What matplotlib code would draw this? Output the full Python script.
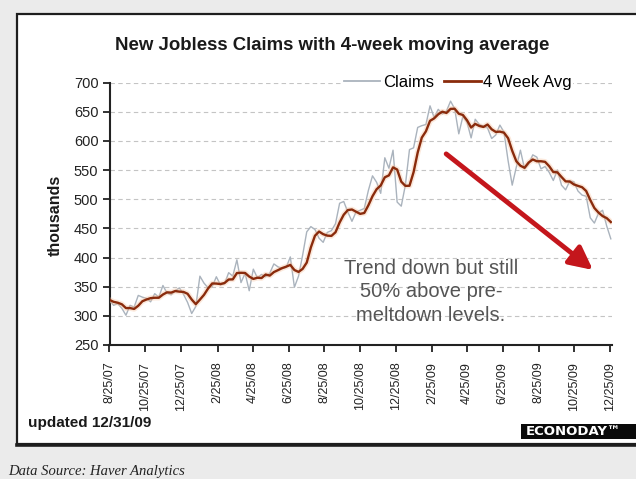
import matplotlib
matplotlib.use("Agg")
import matplotlib.pyplot as plt
import matplotlib.patheffects as pe
from matplotlib.patches import Rectangle
from matplotlib.lines import Line2D
import pandas as pd

plt.rcParams["font.family"] = ["Liberation Sans", "DejaVu Sans"]

# Weekly initial jobless claims (thousands), weeks ending Saturday
week_ending = pd.date_range("2007-08-25", "2009-12-26", freq="W-SAT")

claims = [
    327, 318, 321, 313, 301, 318, 315, 335, 332, 330, 324, 338, 332, 352, 339, 336,
    343, 348, 337, 323, 304, 316, 368, 356, 348, 350, 367, 353, 355, 374, 368, 396,
    357, 373, 343, 380, 365, 371, 367, 373, 389, 384, 381, 383, 401, 349, 368, 404,
    444, 453, 448, 433, 426, 443, 446, 458, 493, 496, 478, 462, 478, 481, 484, 515,
    540, 529, 510, 571, 553, 584, 495, 488, 524, 585, 588, 623, 626, 628, 660, 640,
    654, 646, 651, 668, 655, 612, 642, 632, 605, 637, 628, 625, 622, 604, 610, 627,
    615, 566, 524, 555, 584, 552, 560, 576, 572, 552, 556, 546, 532, 550, 524, 516,
    531, 530, 514, 507, 505, 468, 459, 476, 481, 454, 432,
]

avg_4wk = [
    327.3, 324.0, 322.5, 319.8, 313.3, 313.3, 311.8, 317.3, 325.0, 328.0, 330.3, 331.0,
    331.0, 336.5, 340.3, 339.8, 342.5, 341.5, 341.0, 337.8, 328.0, 320.0, 327.8, 336.0,
    347.0, 355.5, 355.3, 354.5, 356.3, 362.3, 362.5, 373.3, 373.8, 373.5, 367.3, 363.3,
    365.3, 364.8, 370.8, 369.0, 375.0, 378.3, 381.8, 384.3, 387.3, 378.5, 375.3, 380.5,
    391.3, 417.3, 437.3, 444.5, 440.0, 437.5, 437.0, 443.3, 460.0, 473.3, 481.3, 482.3,
    478.5, 474.8, 476.3, 489.5, 505.0, 517.0, 523.5, 537.5, 540.8, 554.5, 550.8, 530.0,
    522.8, 523.0, 546.3, 580.0, 605.5, 616.3, 634.3, 638.5, 645.5, 650.0, 647.8, 654.8,
    655.0, 646.5, 644.3, 635.3, 622.8, 629.0, 625.5, 623.8, 628.0, 619.8, 615.3, 615.8,
    614.0, 604.5, 583.0, 565.0, 557.3, 553.8, 562.8, 568.0, 565.0, 565.0, 564.0, 556.5,
    546.5, 546.0, 538.0, 530.5, 530.3, 525.3, 522.8, 520.5, 514.0, 498.5, 484.8, 477.0,
    471.0, 467.5, 460.8,
]

tick_labels = [
    "8/25/07", "10/25/07", "12/25/07", "2/25/08", "4/25/08", "6/25/08", "8/25/08",
    "10/25/08", "12/25/08", "2/25/09", "4/25/09", "6/25/09", "8/25/09", "10/25/09",
    "12/25/09",
]
tick_dates = pd.to_datetime(tick_labels, format="%m/%d/%y")
y_ticks = [250, 300, 350, 400, 450, 500, 550, 600, 650, 700]

W, H = 636, 479
fig = plt.figure(figsize=(W / 100, H / 100), dpi=100, facecolor="#ebebeb")


def fx(px):
    return px / W


def fy(py):
    return 1 - py / H


# White panel with dark border
fig.patches.append(Rectangle((fx(17), fy(444)), fx(645) - fx(17), fy(14) - fy(444),
                             transform=fig.transFigure, facecolor="white",
                             edgecolor="#1e1e1e", linewidth=1.6, zorder=-2))
fig.lines.append(Line2D([fx(17), fx(636)], [fy(444.5), fy(444.5)], transform=fig.transFigure,
                        color="#1e1e1e", linewidth=2.6, zorder=-1))

ax = fig.add_axes([fx(109.5), fy(345), fx(612) - fx(109.5), fy(82.5) - fy(345)])
ax.set_zorder(1)
ax.set_facecolor("white")

ax.plot(week_ending, claims, color="#aab3bd", lw=1.0, zorder=3)
ax.plot(week_ending, avg_4wk, color="#f6bf98", lw=4, alpha=0.35,
        solid_capstyle="round", zorder=4)
ax.plot(week_ending, avg_4wk, color="#8a2b0c", lw=1.7, zorder=5)

ax.set_ylim(250, 700)
ax.set_xlim(pd.Timestamp("2007-08-25"), pd.Timestamp("2009-12-28"))
ax.set_yticks(y_ticks)
ax.set_xticks(tick_dates)
ax.set_xticklabels(tick_labels, rotation=90)
ax.yaxis.grid(True, linestyle=(0, (4, 3)), color="#c4c4c4", lw=0.8)
ax.set_axisbelow(True)

for s in ("top", "right"):
    ax.spines[s].set_visible(False)
for s in ("left", "bottom"):
    ax.spines[s].set_color("#222222")
    ax.spines[s].set_linewidth(1.5)

ax.tick_params(axis="y", direction="out", length=5, width=1.3, colors="#222222",
               labelsize=10.5, pad=3)
ax.tick_params(axis="x", direction="out", length=5, width=1.3, colors="#222222",
               labelsize=9, pad=7)

legend_handles = [
    Line2D([], [], color="#aab3bd", lw=1.3),
    Line2D([], [], color="#8a2b0c", lw=2),
]
leg = ax.legend(legend_handles, ["Claims", "4 Week Avg"], loc="center",
                bbox_to_anchor=(0.693, 1.0), ncol=2, frameon=True, fontsize=12,
                handlelength=2.2, columnspacing=0.6, handletextpad=0.15,
                borderpad=0.1, borderaxespad=0)
leg.get_frame().set_facecolor("white")
leg.get_frame().set_edgecolor("none")
leg.get_frame().set_alpha(1.0)

ax.text(0.640, 0.202, "Trend down but still\n50% above pre-\nmeltdown levels.",
        transform=ax.transAxes, ha="center", va="center", multialignment="center",
        fontsize=14.5, color="#555555", linespacing=1.27, zorder=6)

arrow = ax.annotate("", xy=(0.962, 0.286), xytext=(0.670, 0.728),
                    xycoords="axes fraction", textcoords="axes fraction",
                    arrowprops=dict(arrowstyle="-|>,head_length=1.4,head_width=0.7",
                                    color="#c4161c", lw=3.5, shrinkA=0, shrinkB=0,
                                    mutation_scale=10), zorder=7)
arrow.arrow_patch.set_path_effects([
    pe.SimplePatchShadow(offset=(2, -2), shadow_rgbFace="#777777", alpha=0.35),
    pe.Normal(),
])

fig.text(fx(332), fy(45), "New Jobless Claims with 4-week moving average",
         ha="center", va="center", fontsize=13.4, fontweight="bold", color="#1a1a1a")
fig.text(fx(55), fy(215), "thousands", rotation=90, ha="center", va="center",
         fontsize=11.5, fontweight="bold", color="#1a1a1a")
fig.text(fx(28), fy(423), "updated 12/31/09", ha="left", va="center",
         fontsize=11, fontweight="bold", color="#1a1a1a")

# Logo badge
fig.patches.append(Rectangle((fx(521), fy(438.5)), fx(640) - fx(521), fy(424) - fy(438.5),
                             transform=fig.transFigure, facecolor="#0a0a0a",
                             edgecolor="none", zorder=2))
fig.text(fx(526), fy(431.5), "ECONODAY\u2122", ha="left", va="center",
         fontsize=9.5, fontweight="bold", color="white", family="DejaVu Sans", zorder=3)

fig.text(fx(8), fy(472), "Data Source: Haver Analytics", ha="left", va="center",
         fontsize=10.5, style="italic", family="Liberation Serif", color="#222222")

fig.savefig("out.png", dpi=100, facecolor=fig.get_facecolor())
